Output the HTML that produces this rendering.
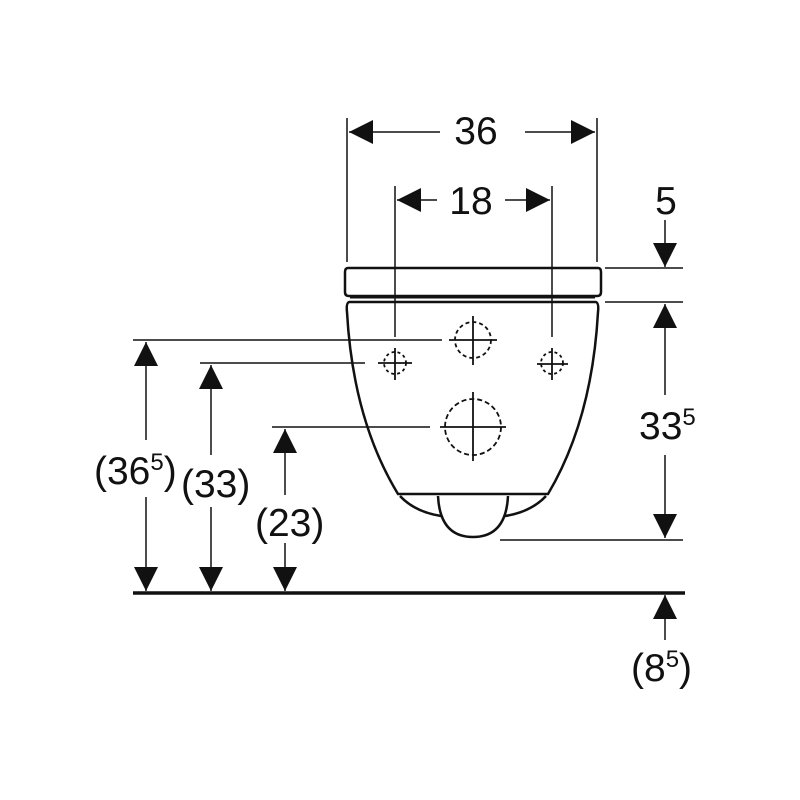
<!DOCTYPE html>
<html><head><meta charset="utf-8"><style>html,body{margin:0;padding:0;background:#fff}svg{display:block}</style></head>
<body>
<svg width="800" height="800" viewBox="0 0 800 800" xmlns="http://www.w3.org/2000/svg" font-family="Liberation Sans, sans-serif" font-size="39" fill="#111">
<defs>
<marker id="a" viewBox="0 0 24 24" markerWidth="24" markerHeight="24" refX="24" refY="12" orient="auto" markerUnits="userSpaceOnUse"><path d="M0,0L24,12L0,24z" fill="#111"/></marker>
</defs>
<g stroke="#111" stroke-width="1.5" fill="none">
<line x1="347" y1="118" x2="347" y2="262"/>
<line x1="597" y1="118" x2="597" y2="262"/>
<line x1="395" y1="186" x2="395" y2="337"/>
<line x1="552" y1="186" x2="552" y2="337"/>
<line x1="605" y1="268" x2="683" y2="268"/>
<line x1="605" y1="302" x2="683" y2="302"/>
<line x1="500" y1="540" x2="683" y2="540"/>
<line x1="133" y1="340" x2="442" y2="340"/>
<line x1="200" y1="363" x2="365" y2="363"/>
<line x1="272" y1="427" x2="430" y2="427"/>
<line x1="440" y1="132" x2="349" y2="132" marker-end="url(#a)"/>
<line x1="525" y1="132" x2="595" y2="132" marker-end="url(#a)"/>
<line x1="437" y1="200" x2="397" y2="200" marker-end="url(#a)"/>
<line x1="505" y1="200" x2="550" y2="200" marker-end="url(#a)"/>
<line x1="665" y1="220" x2="665" y2="267" marker-end="url(#a)"/>
<line x1="665" y1="395" x2="665" y2="304" marker-end="url(#a)"/>
<line x1="665" y1="455" x2="665" y2="538" marker-end="url(#a)"/>
<line x1="665" y1="640" x2="665" y2="595" marker-end="url(#a)"/>
<line x1="146" y1="440" x2="146" y2="342" marker-end="url(#a)"/>
<line x1="146" y1="497" x2="146" y2="591" marker-end="url(#a)"/>
<line x1="211" y1="455" x2="211" y2="365" marker-end="url(#a)"/>
<line x1="211" y1="507" x2="211" y2="591" marker-end="url(#a)"/>
<line x1="285" y1="495" x2="285" y2="429" marker-end="url(#a)"/>
<line x1="285" y1="543" x2="285" y2="591" marker-end="url(#a)"/>
</g>
<line x1="133" y1="593" x2="685" y2="593" stroke="#111" stroke-width="3.5"/>
<g stroke="#111" stroke-width="2.5" fill="none">
<path d="M348,268 L598,268 Q601,268 601,272 L601,292 Q601,296 597,296 L349,296 Q345,296 345,292 L345,272 Q345,268 348,268 Z"/>
<path d="M350,297 L595,297" stroke-width="3"/>
<path d="M349,302 L596,302 Q599,303 598,312 Q592,420 548,494 L398,494 Q353,420 347,312 Q346,303 349,302 Z"/>
<path d="M400,496 Q415,512 441,516"/>
<path d="M546,496 Q531,512 505,516"/>
<path d="M438,496 Q440,537 473,537 Q506,537 508,496"/>
</g>
<g stroke="#111" stroke-width="1.8" fill="none">
<circle cx="473" cy="340" r="18" stroke-dasharray="4,3"/>
<line x1="449" y1="340" x2="497" y2="340"/><line x1="473" y1="316" x2="473" y2="365"/>
<circle cx="395" cy="363" r="11" stroke-dasharray="3,3"/>
<line x1="378" y1="363" x2="412" y2="363"/><line x1="395" y1="348" x2="395" y2="380"/>
<circle cx="552" cy="363" r="11" stroke-dasharray="3,3"/>
<line x1="537" y1="364" x2="568" y2="364"/><line x1="552" y1="348" x2="552" y2="380"/>
<circle cx="473" cy="427" r="28" stroke-dasharray="5,3"/>
<line x1="440" y1="427" x2="506" y2="427"/><line x1="473" y1="392" x2="473" y2="461"/>
</g>
<text x="476" y="144" text-anchor="middle">36</text>
<text x="471" y="214" text-anchor="middle">18</text>
<text x="666" y="214" text-anchor="middle">5</text>
<text x="639" y="439">33<tspan font-size="24" dy="-14">5</tspan></text>
<text x="631" y="681">(8<tspan font-size="24" dy="-14">5</tspan><tspan dy="14">)</tspan></text>
<text x="94" y="484">(36<tspan font-size="24" dy="-14">5</tspan><tspan dy="14">)</tspan></text>
<text x="181" y="497">(33)</text>
<text x="255" y="536">(23)</text>
</svg>
</body></html>
